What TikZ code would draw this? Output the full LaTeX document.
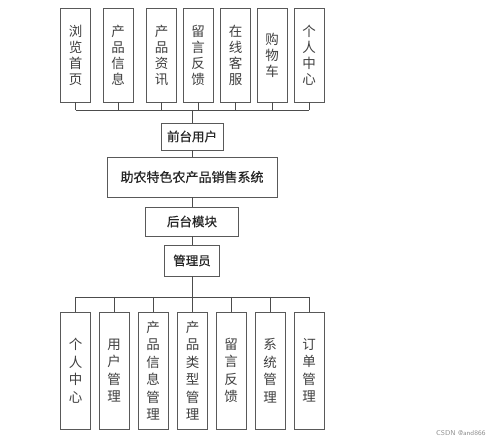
\documentclass[tikz,border=0pt]{standalone}
\usepackage{fontspec}
\newfontfamily\cjk{Noto Sans CJK SC}
\newfontfamily\cjkb[FakeBold=0.6]{Noto Sans CJK SC}
\usetikzlibrary{positioning}

\tikzset{
  frame/.style={draw=black!65, line width=0.8pt, fill=white},
  vbox/.style={frame, minimum width=30, inner sep=0pt, align=center,
    text=black!75, font=\cjk\fontsize{13.5}{16}\selectfont},
  lowbox/.style={vbox, minimum height=117, font=\cjk\fontsize{13.5}{17.5}\selectfont},
  hbox/.style={frame, inner sep=0pt, text=black!85, font=\cjkb\fontsize{12.5}{14}\selectfont},
  wire/.style={draw=black!70, line width=0.8pt}
}

\begin{document}
\begin{tikzpicture}[x=1pt,y=-1pt]

% Fix the page to the reference size
\useasboundingbox (0,0) rectangle (499,443);

% Rows of the two buses
\def\Ytop{110} % bus under the top row
\def\Ylow{297} % bus over the bottom row

% Top row: front-end functions
\foreach \n/\x/\txt in {1/75.5/{浏\\览\\首\\页}, 2/118/{产\\品\\信\\息},
    3/161.5/{产\\品\\资\\讯}, 4/198/{留\\言\\反\\馈}, 5/235.5/{在\\线\\客\\服},
    6/272/{购\\物\\车}, 7/309/{个\\人\\中\\心}} {
    \node[vbox, minimum height=94] (t\n) at (\x,55) {\txt};
}

% Middle column
\node[hbox, minimum width=62, minimum height=27] (fore) at (192,136.5) {前台用户};
\node[hbox, minimum width=170, minimum height=40, font=\cjkb\fontsize{13}{15}\selectfont] (sys) at (192,177) {助农特色农产品销售系统};
\node[hbox, minimum width=93, minimum height=29] (back) at (192,221.5) {后台模块};
\node[hbox, minimum width=55, minimum height=31] (admin) at (192,260.5) {管理员};

% Bottom row: back-end functions
\foreach \n/\x/\txt in {1/75.5/{个\\人\\中\\心}, 2/114/{用\\户\\管\\理},
    3/153/{产\\品\\信\\息\\管\\理}, 4/192.5/{产\\品\\类\\型\\管\\理},
    5/231/{留\\言\\反\\馈}, 6/270/{系\\统\\管\\理}, 7/309/{订\\单\\管\\理}} {
    \node[lowbox] (b\n) at (\x,370.5) {\txt};
}

% Bus coordinates
\coordinate (busT) at (192,\Ytop);
\coordinate (busL) at (192,\Ylow);

% Top bus
\foreach \n in {1,...,7} {
    \draw[wire] (t\n.south) -- (t\n.south |- busT);
}
\draw[wire] (t1.south |- busT) -- (t7.south |- busT);
\draw[wire] (busT) -- (fore.north);

% Centre chain
\draw[wire] (fore.south) -- (sys.north);
\draw[wire] (sys.south) -- (back.north);
\draw[wire] (back.south) -- (admin.north);
\draw[wire] (admin.south) -- (busL);

% Bottom bus
\draw[wire] (b1.north |- busL) -- (b7.north |- busL);
\foreach \n in {1,...,7} {
    \draw[wire] (b\n.north |- busL) -- (b\n.north);
}

% Watermark
\node[text=black!45, font=\sffamily\fontsize{7}{8}\selectfont, anchor=east] (mark) at (489,433) {CSDN @and866};

\end{tikzpicture}
\end{document}
